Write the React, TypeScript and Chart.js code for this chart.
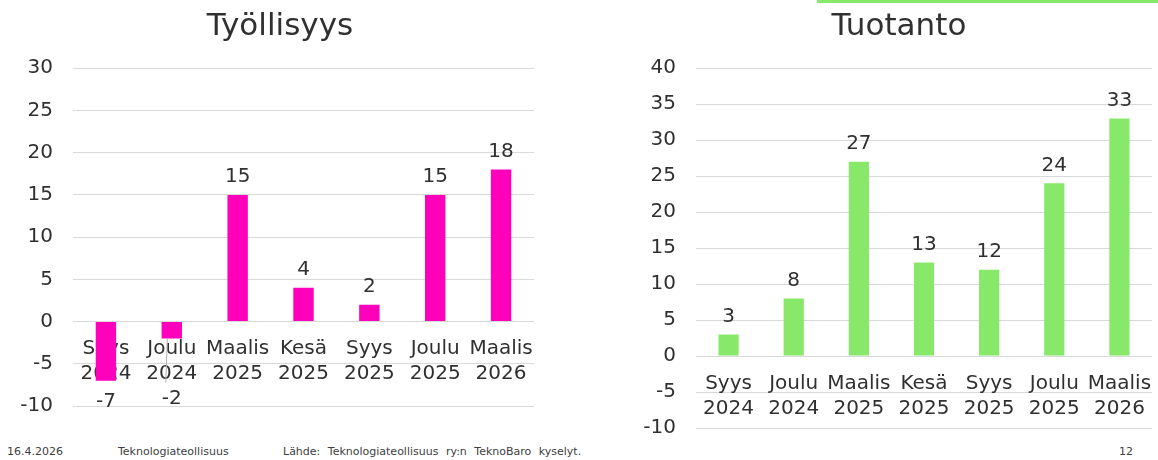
import React, { useEffect, useRef } from "react";
import { Chart, registerables } from "chart.js";

Chart.register(...registerables);

// ---- data ----
const categories: string[][] = [
  ["Syys", "2024"],
  ["Joulu", "2024"],
  ["Maalis", "2025"],
  ["Kesä", "2025"],
  ["Syys", "2025"],
  ["Joulu", "2025"],
  ["Maalis", "2026"],
];
const tyollisyysValues = [-7, -2, 15, 4, 2, 15, 18];
const tuotantoValues = [3, 8, 27, 13, 12, 24, 33];
const tyollisyysTicks = [-10, -5, 0, 5, 10, 15, 20, 25, 30];
const tuotantoTicks = [-10, -5, 0, 5, 10, 15, 20, 25, 30, 35, 40];
const footerDate = "16.4.2026";
const footerOrg = "Teknologiateollisuus";
const footerSource = "Lähde: Teknologiateollisuus ry:n TeknoBaro kyselyt.";
const footerPage = "12";

// ---- style ----
const FONT = "'DejaVu Sans', Verdana, sans-serif";
const TEXT = "#303030";
const GRID = "#d9d9d9";
const PINK = "#ff00bb";
const GREEN = "#87e86a";

Chart.defaults.font.family = FONT;

const valueLabels = {
  id: "valueLabels",
  afterDatasetsDraw(chart: any) {
    const ctx = chart.ctx;
    const yScale = chart.scales.y;
    const zero = yScale.getPixelForValue(0);
    ctx.save();
    ctx.font = `20px ${FONT}`;
    ctx.fillStyle = TEXT;
    ctx.textAlign = "center";
    ctx.textBaseline = "middle";
    chart.data.datasets.forEach((ds: any, di: number) => {
      const meta = chart.getDatasetMeta(di);
      meta.data.forEach((bar: any, i: number) => {
        const v = ds.data[i];
        if (v >= 0) {
          ctx.fillText(String(v), bar.x, bar.y - 18);
        } else {
          const natural = bar.y + 21;
          const y = Math.max(natural, zero + 77);
          if (y - natural > 10) {
            ctx.save();
            ctx.strokeStyle = "#b0b0b0";
            ctx.lineWidth = 1;
            ctx.beginPath();
            ctx.moveTo(bar.x - 4.5, bar.y);
            ctx.lineTo(bar.x - 6, y - 16);
            ctx.stroke();
            ctx.restore();
          }
          ctx.fillText(String(v), bar.x, y);
        }
      });
    });
    ctx.restore();
  },
};

function makeConfig(
  title: string,
  values: number[],
  color: string,
  ticks: number[],
  axisWidth: number,
  rightWidth: number,
  bottomPad: number
): any {
  return {
    type: "bar",
    data: {
      labels: categories,
      datasets: [
        {
          data: values,
          backgroundColor: color,
          borderWidth: 0,
          categoryPercentage: 0.31,
          barPercentage: 1,
          yAxisID: "y",
        },
      ],
    },
    options: {
      animation: false,
      responsive: false,
      devicePixelRatio: 1,
      layout: { padding: { left: 0, right: 0, top: 0, bottom: bottomPad } },
      plugins: {
        legend: { display: false },
        tooltip: { enabled: false },
        title: {
          display: true,
          text: title,
          color: TEXT,
          font: { size: 31, weight: "normal", family: FONT, lineHeight: 1.2 },
          padding: { top: 8, bottom: 23 },
        },
      },
      scales: {
        x: {
          position: { y: 0 },
          z: 1,
          grid: { display: false, drawTicks: false },
          border: { display: false },
          ticks: {
            color: TEXT,
            font: { size: 20, family: FONT, lineHeight: 1.25 },
            padding: 15,
            maxRotation: 0,
            minRotation: 0,
            autoSkip: false,
          },
          afterFit: (s: any) => {
            s.paddingLeft = 0;
            s.paddingRight = 0;
            s.paddingTop = 0;
            s.paddingBottom = 0;
          },
        },
        y: {
          position: "left",
          min: ticks[0],
          max: ticks[ticks.length - 1],
          grid: { color: GRID, lineWidth: 1, drawTicks: false },
          border: { display: false },
          ticks: {
            stepSize: ticks[1] - ticks[0],
            color: TEXT,
            font: { size: 20, family: FONT },
            padding: 20,
          },
          afterFit: (s: any) => {
            s.width = axisWidth;
            s.paddingTop = 0;
            s.paddingBottom = 0;
          },
        },
        spacer: {
          type: "linear",
          position: "right",
          grid: { display: false, drawTicks: false },
          border: { display: false },
          ticks: { display: false },
          afterFit: (s: any) => {
            s.width = rightWidth;
            s.paddingTop = 0;
            s.paddingBottom = 0;
          },
        },
      },
    },
    plugins: [valueLabels],
  };
}

function BarChart(props: {
  config: any;
  left: number;
  width: number;
  height: number;
}) {
  const ref = useRef<HTMLCanvasElement | null>(null);
  useEffect(() => {
    if (!ref.current) return;
    const chart = new Chart(ref.current, props.config);
    return () => chart.destroy();
  }, []);
  return (
    <canvas
      ref={ref}
      width={props.width}
      height={props.height}
      style={{
        position: "absolute",
        left: props.left,
        top: 0,
        width: props.width,
        height: props.height,
      }}
    />
  );
}

const footerStyle: React.CSSProperties = {
  position: "absolute",
  top: 445,
  fontFamily: FONT,
  fontSize: 11,
  lineHeight: "14px",
  color: "#404040",
  whiteSpace: "nowrap",
};

export default function App() {
  // left chart: canvas 0..560, plot 73..534, title centred at 280
  const leftConfig = makeConfig("Työllisyys", tyollisyysValues, PINK, tyollisyysTicks, 73, 26, 24);
  // right chart: canvas 636..1162, plot 696..1152, title centred at 899
  const rightConfig = makeConfig("Tuotanto", tuotantoValues, GREEN, tuotantoTicks, 60, 10, 12);
  return (
    <div
      style={{
        position: "fixed",
        left: 0,
        top: 0,
        width: 1158,
        height: 460,
        background: "#ffffff",
        overflow: "hidden",
      }}
    >
      <div
        style={{
          position: "absolute",
          left: 817,
          top: 0,
          width: 341,
          height: 3,
          background: GREEN,
        }}
      />
      <BarChart config={leftConfig} left={0} width={560} height={430} />
      <BarChart config={rightConfig} left={636} width={526} height={440} />
      <div style={{ ...footerStyle, left: 7 }}>{footerDate}</div>
      <div style={{ ...footerStyle, left: 118 }}>{footerOrg}</div>
      <div style={{ ...footerStyle, left: 283, wordSpacing: 4 }}>{footerSource}</div>
      <div style={{ ...footerStyle, left: 1119 }}>{footerPage}</div>
    </div>
  );
}
